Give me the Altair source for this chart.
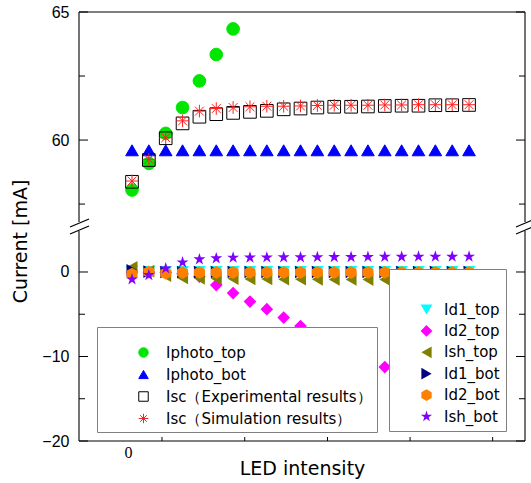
import altair as alt
import pandas as pd

# ---------------- data ----------------
led_index = list(range(21))

top_names = ["Iphoto_top", "Iphoto_bot", "Isc（Experimental results）", "Isc（Simulation results）"]
bot_names = ["Id1_top", "Id2_top", "Ish_top", "Id1_bot", "Id2_bot", "Ish_bot"]

iphoto_top = [58.05, 59.09, 60.26, 61.27, 62.31, 63.34, 64.34]
iphoto_bot = [59.6, 59.6, 59.6, 59.6, 59.6, 59.6, 59.6, 59.6, 59.6, 59.6, 59.6,
              59.6, 59.6, 59.6, 59.6, 59.6, 59.6, 59.6, 59.6, 59.6, 59.6]
isc_exp = [58.37, 59.22, 60.07, 60.65, 60.91, 61.01, 61.06, 61.10, 61.14, 61.20, 61.23,
           61.27, 61.30, 61.30, 61.31, 61.33, 61.34, 61.34, 61.36, 61.36, 61.37]
isc_sim = [58.40, 59.25, 60.09, 60.75, 61.13, 61.23, 61.27, 61.30, 61.32, 61.32, 61.33,
           61.35, 61.36, 61.36, 61.36, 61.37, 61.37, 61.38, 61.38, 61.38, 61.38]

id1_top = [0.10, 0.05, 0.05, 0.05, 0.05, 0.05, 0.05, 0.05, 0.05, 0.05, 0.05,
           0.05, 0.05, 0.05, 0.05, 0.05, 0.05, 0.05, 0.05, 0.05, 0.05]
id2_top = [0.0, -0.02, -0.05, -0.2, -0.55, -1.55, -2.5, -3.5, -4.4, -5.4, -6.4,
           None, None, None, None, -11.25, None, None, None, None, None]
ish_top = [0.55, 0.1, -0.45, -0.7, -0.75, -0.78, -0.8, -0.82, -0.83, -0.85, -0.86,
           -0.87, -0.88, -0.89, -0.9, -0.9, -0.91, -0.92, -0.92, -0.93, -0.93]
id1_bot = [0.2, 0.05, 0.0, 0.0, 0.0, 0.0, 0.0, 0.0, 0.0, 0.0, 0.0,
           0.0, 0.0, 0.0, 0.0, 0.0, 0.0, 0.0, 0.0, 0.0, 0.0]
id2_bot = [-0.24, 0.0, -0.15, -0.08, -0.06, -0.05, -0.05, -0.05, -0.05, -0.05, -0.05,
           -0.05, -0.04, -0.04, -0.04, -0.04, -0.04, -0.04, -0.04, -0.04, -0.04]
ish_bot = [-0.87, -0.36, 0.43, 1.14, 1.5, 1.62, 1.7, 1.71, 1.72, 1.74, 1.74,
           1.75, 1.77, 1.77, 1.78, 1.8, 1.8, 1.81, 1.81, 1.81, 1.82]

y_major_ticks = [-20, -10, 0, 60, 65]
y_minor_ticks = [-15, -5, 57.5, 62.5]
x_ticks = [1.78, 6.69, 11.6, 16.5, 21.4]
x_label_ticks = [0]

# ---------------- tables ----------------
def long_table(names, series, field):
    rows = []
    for name, vals in zip(names, series):
        for i, v in zip(led_index, vals):
            if v is not None:
                rows.append({"led": i, "current": v, field: name})
    return pd.DataFrame(rows)

df_top = long_table(top_names, [iphoto_top, iphoto_bot, isc_exp, isc_sim], "series")
df_bot = long_table(bot_names, [id1_top, id2_top, ish_top, id1_bot, id2_bot, ish_bot], "series2")
df_major = pd.DataFrame({"v": y_major_ticks})
df_minor = pd.DataFrame({"v": y_minor_ticks})
df_xt = pd.DataFrame({"t": x_ticks})
one = alt.Data(values=[{"a": 1}])

# ---------------- geometry ----------------
W, H = 446, 429
Y_MIN, Y_MAX = -20, 65
BREAK_LO, BREAK_HI = 4.85, 56.8
y_scale = alt.Scale(domain=[Y_MIN, BREAK_LO, BREAK_HI, Y_MAX], range=[H, 219, 210, 0],
                    zero=False, nice=False)
x_scale = alt.Scale(domain=[-3.145, 23.32], zero=False, nice=False)

ASTERISK = "M0,-1L0,1M-1,0L1,0M-0.7,-0.7L0.7,0.7M-0.7,0.7L0.7,-0.7"
HEXAGON = "M0,-1L0.87,-0.5L0.87,0.5L0,1L-0.87,0.5L-0.87,-0.5Z"
STAR = ("M0,-1L0.2234,-0.3074L0.951,-0.309L0.3614,0.1174L0.588,0.809L0,0.38"
        "L-0.588,0.809L-0.3614,0.1174L-0.951,-0.309L-0.2234,-0.3074Z")

LEG_FONT = "DejaVu Sans"

leg_top = alt.Legend(
    title=" ", orient="none", legendX=18, legendY=315,
    fillColor="white", strokeColor="#808080", padding=5,
    titleFontSize=10, titlePadding=3,
    symbolOffset=34, labelOffset=15, rowPadding=6,
    symbolSize=90, symbolStrokeWidth=1,
    labelFont=LEG_FONT, labelFontSize=15, labelColor="black", labelLimit=400,
)
leg_bot = alt.Legend(
    title=" ", orient="none", legendX=310, legendY=257,
    fillColor="white", strokeColor="#808080", padding=6,
    titleFontSize=20, titlePadding=7,
    symbolOffset=24, labelOffset=10, rowPadding=5.4,
    symbolSize=140, symbolStrokeWidth=0,
    labelFont=LEG_FONT, labelFontSize=15, labelColor="black",
)

# ---------------- frame (broken at the axis break) ----------------
FR = dict(color="black", strokeWidth=1.1)
frame = [
    alt.Chart(one).mark_rule(**FR).encode(x=alt.value(0), x2=alt.value(W), y=alt.value(0)),
    alt.Chart(one).mark_rule(**FR).encode(x=alt.value(0), x2=alt.value(W), y=alt.value(H)),
]
for cx in (0, W):
    for lo, hi in ((Y_MIN, BREAK_LO), (BREAK_HI, Y_MAX)):
        frame.append(alt.Chart(one).mark_rule(**FR).encode(
            x=alt.value(cx),
            y=alt.YDatum(lo, scale=y_scale, axis=None), y2=alt.Y2Datum(hi)))

# ---------------- data layers ----------------
top_pts = alt.Chart(df_top).mark_point(size=160, opacity=1, strokeWidth=1).encode(
    x=alt.X("led:Q", scale=x_scale,
            axis=alt.Axis(values=x_label_ticks, labelExpr="'0'", ticks=False, domain=False,
                          grid=False, labelFont="Liberation Serif", labelFontSize=16,
                          labelColor="black", labelPadding=3, labelOffset=-4,
                          title="LED intensity", titleFont="DejaVu Sans", titleFontSize=19,
                          titleFontWeight="normal", titleColor="black",
                          titleBaseline="middle", titleY=27)),
    y=alt.Y("current:Q", scale=y_scale,
            axis=alt.Axis(values=y_major_ticks, ticks=False, tickSize=0, domain=False, grid=False,
                          labelFont="Liberation Sans", labelFontSize=16, labelColor="black",
                          labelPadding=10,
                          title="Current [mA]", titleFont="DejaVu Sans", titleFontSize=19,
                          titleFontWeight="normal", titleColor="black",
                          titleBaseline="middle", titleX=-59, titleY=229)),
    shape=alt.Shape("series:N", scale=alt.Scale(domain=top_names,
                    range=["circle", "triangle-up", "square", ASTERISK]), legend=leg_top),
    fill=alt.Fill("series:N", scale=alt.Scale(domain=top_names,
                  range=["#00e600", "#0000ff", "transparent", "transparent"]), legend=leg_top),
    stroke=alt.Stroke("series:N", scale=alt.Scale(domain=top_names,
                      range=["#00e600", "#0000ff", "#000000", "#ff2020"]), legend=leg_top),
)

bot_pts = alt.Chart(df_bot).mark_point(size=160, opacity=1, filled=True).encode(
    x=alt.X("led:Q", scale=x_scale, axis=None),
    y=alt.Y("current:Q", scale=y_scale, axis=None),
    shape=alt.Shape("series2:N", scale=alt.Scale(domain=bot_names,
                    range=["triangle-down", "diamond", "triangle-left", "triangle-right",
                           HEXAGON, STAR]), legend=leg_bot),
    color=alt.Color("series2:N", scale=alt.Scale(domain=bot_names,
                    range=["#00ffff", "#ff00ff", "#808000", "#000080", "#ff8000", "#8000ff"]),
                    legend=leg_bot),
)

TICK = dict(color="black", strokeWidth=1)
l_major = alt.Chart(df_major).mark_rule(**TICK).encode(
    y=alt.Y("v:Q", scale=y_scale, axis=None), x=alt.value(0), x2=alt.value(9))
l_minor = alt.Chart(df_minor).mark_rule(**TICK).encode(
    y=alt.Y("v:Q", scale=y_scale, axis=None), x=alt.value(0), x2=alt.value(6))
r_major = alt.Chart(df_major).mark_rule(**TICK).encode(
    y=alt.Y("v:Q", scale=y_scale, axis=None), x=alt.value(W), x2=alt.value(W - 9))
r_minor = alt.Chart(df_minor).mark_rule(**TICK).encode(
    y=alt.Y("v:Q", scale=y_scale, axis=None), x=alt.value(W), x2=alt.value(W - 6))
b_ticks = alt.Chart(df_xt).mark_rule(**TICK).encode(
    x=alt.X("t:Q", scale=x_scale, axis=None), y=alt.value(H), y2=alt.value(H - 4))

SL = dict(color="black", strokeWidth=1.2)
slashes = []
for cx in (0, W):
    for y0 in (215, 222):
        slashes.append(alt.Chart(one).mark_rule(**SL).encode(
            x=alt.value(cx - 9), x2=alt.value(cx + 10),
            y=alt.value(y0), y2=alt.value(y0 - 8)))

chart = alt.layer(*frame, top_pts, bot_pts, l_major, l_minor, r_major, r_minor, b_ticks, *slashes)
chart = chart.resolve_scale(shape="independent", color="independent",
                            fill="independent", stroke="independent")
chart = chart.resolve_axis(x="independent", y="independent")
chart = chart.properties(
    width=W, height=H,
    padding={"left": 79, "top": 12, "right": 6, "bottom": 42},
    autosize=alt.AutoSizeParams(type="none"),
    background="white",
).configure(font="DejaVu Sans").configure_view(stroke="transparent")

chart.save("out.html", embed_options={"renderer": "svg", "actions": False})
